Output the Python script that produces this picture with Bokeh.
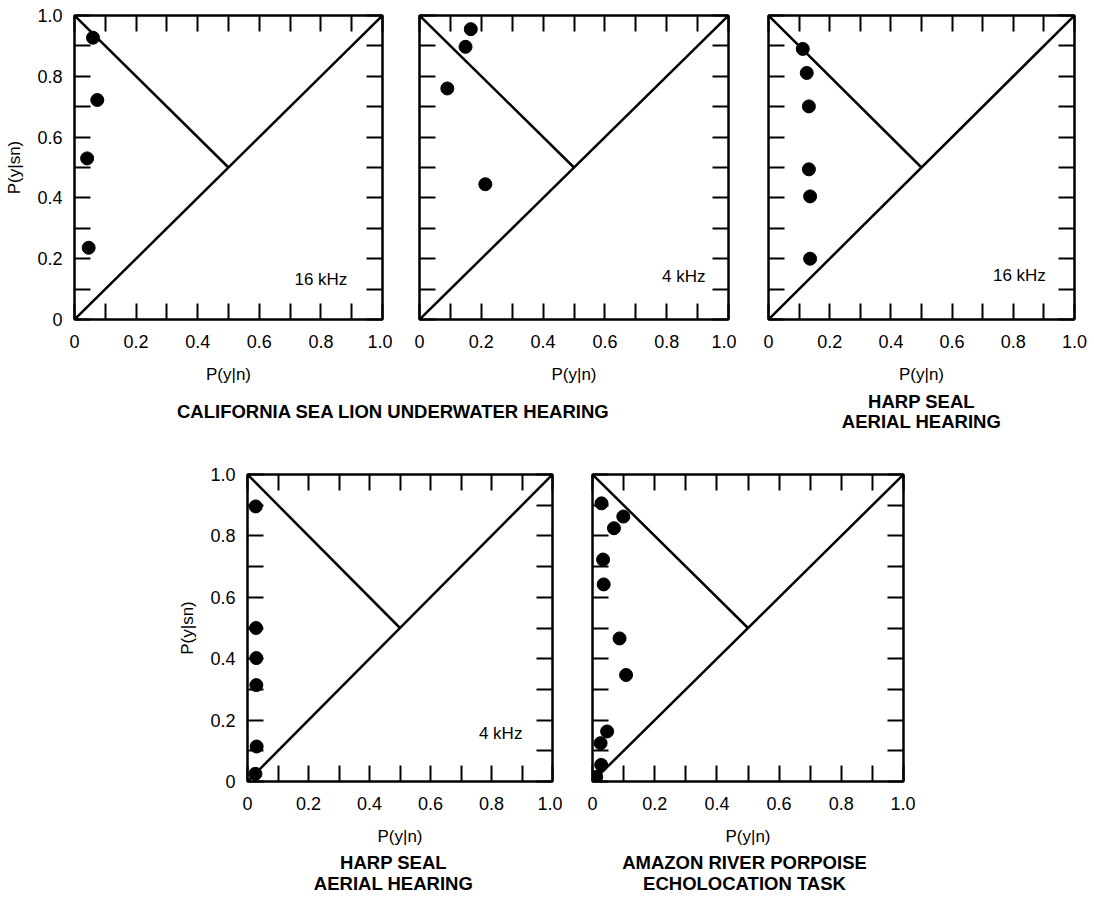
from bokeh.plotting import figure
from bokeh.layouts import column, row
from bokeh.models import Range1d, FixedTicker, LinearAxis, Spacer
from bokeh.core.properties import value
from bokeh.embed import file_html
from bokeh.resources import INLINE

# ---------------- data ----------------
# Panel A: California sea lion, underwater hearing, 16 kHz
sl16_fa = [0.060, 0.074, 0.041, 0.046]
sl16_hit = [0.927, 0.722, 0.530, 0.236]
# Panel B: California sea lion, underwater hearing, 4 kHz
sl4_fa = [0.166, 0.149, 0.090, 0.213]
sl4_hit = [0.955, 0.897, 0.760, 0.445]
# Panel C: harp seal, aerial hearing, 16 kHz
hs16_fa = [0.112, 0.125, 0.132, 0.132, 0.136, 0.136]
hs16_hit = [0.890, 0.811, 0.701, 0.494, 0.405, 0.200]
# Panel D: harp seal, aerial hearing, 4 kHz
hs4_fa = [0.027, 0.028, 0.029, 0.029, 0.030, 0.026]
hs4_hit = [0.896, 0.500, 0.402, 0.314, 0.114, 0.025]
# Panel E: Amazon river porpoise, echolocation task
ap_fa = [0.029, 0.099, 0.069, 0.034, 0.036, 0.087, 0.108, 0.047, 0.026, 0.028, 0.012]
ap_hit = [0.906, 0.863, 0.825, 0.723, 0.642, 0.466, 0.347, 0.163, 0.125, 0.054, 0.015]

# reference lines: chance diagonal and negative diagonal
diag_x = [0.0, 1.0]
diag_y = [0.0, 1.0]
neg_x = [0.0, 0.5]
neg_y = [1.0, 0.5]

major_ticks = [0.0, 0.2, 0.4, 0.6, 0.8, 1.0]
minor_ticks = [0.1, 0.3, 0.5, 0.7, 0.9]
tick_labels = {0.0: "0", 0.2: "0.2", 0.4: "0.4", 0.6: "0.6", 0.8: "0.8", 1.0: "1.0"}

FONT = "Liberation Sans"
TICK_LEN = 16


def style_axis(ax, show_labels, standoff=15):
    if show_labels:
        ax.ticker = FixedTicker(ticks=major_ticks, minor_ticks=minor_ticks)
        ax.major_label_overrides = tick_labels
        ax.major_label_text_font = FONT
        ax.major_label_text_font_size = "18px"
        ax.major_label_text_color = "black"
        ax.major_label_standoff = standoff
    else:
        # unlabelled frame side: every tenth drawn as a (label-free) minor tick
        ax.ticker = FixedTicker(ticks=[], minor_ticks=sorted(major_ticks + minor_ticks))
        ax.major_label_standoff = 0
    ax.major_tick_in = TICK_LEN
    ax.major_tick_out = 0
    ax.minor_tick_in = TICK_LEN
    ax.minor_tick_out = 0
    ax.major_tick_line_width = 2
    ax.minor_tick_line_width = 2
    ax.major_tick_line_color = "black"
    ax.minor_tick_line_color = "black"
    ax.axis_line_color = "black"
    ax.axis_line_width = 2


def panel(fa, hit, fw, fh, bl, br, bt, bb, ylab, note, note_xy):
    p = figure(width=bl + fw + br, height=bt + fh + bb,
               x_range=Range1d(0, 1), y_range=Range1d(0, 1),
               toolbar_location=None, output_backend="svg",
               x_axis_location=None, y_axis_location=None,
               min_border_left=bl, min_border_right=br,
               min_border_top=bt, min_border_bottom=bb)
    p.grid.visible = False
    p.outline_line_color = "black"
    p.outline_line_width = 2
    p.background_fill_color = "white"
    p.border_fill_color = "white"

    xb = LinearAxis(axis_label="P(y|n)")
    style_axis(xb, True, 15)
    xb.axis_label_text_font = FONT
    xb.axis_label_text_font_size = "17px"
    xb.axis_label_text_font_style = "normal"
    xb.axis_label_text_color = "black"
    xb.axis_label_standoff = 14
    p.add_layout(xb, "below")

    yl = LinearAxis(axis_label="P(y|sn)" if ylab else None)
    style_axis(yl, ylab, 12)
    if ylab:
        yl.axis_label_text_font = FONT
        yl.axis_label_text_font_size = "17px"
        yl.axis_label_text_font_style = "normal"
        yl.axis_label_text_color = "black"
        yl.axis_label_standoff = 10
    p.add_layout(yl, "left")

    xt = LinearAxis()
    style_axis(xt, False)
    p.add_layout(xt, "above")
    yr = LinearAxis()
    style_axis(yr, False)
    p.add_layout(yr, "right")

    p.line(diag_x, diag_y, line_color="black", line_width=2.5)
    p.line(neg_x, neg_y, line_color="black", line_width=2.5)
    p.scatter(fa, hit, size=13, fill_color="black", line_color="black")
    if note:
        p.text(x=[note_xy[0]], y=[note_xy[1]], text=[note],
               text_font=value(FONT), text_font_size="17px",
               text_align="center", text_baseline="middle", text_color="black")
    return p


def strip(w, h, items):
    s = figure(width=w, height=h, x_range=Range1d(0, w), y_range=Range1d(h, 0),
               toolbar_location=None, output_backend="svg",
               x_axis_location=None, y_axis_location=None, min_border=0)
    s.grid.visible = False
    s.outline_line_color = None
    s.border_fill_color = "white"
    for (tx, ty, t) in items:
        s.text(x=[tx], y=[ty], text=[t], text_font=value(FONT),
               text_font_size="18.5px", text_font_style="bold",
               text_align="center", text_baseline="middle", text_color="black")
    return s


# ---------------- top row ----------------
f1 = panel(sl16_fa, sl16_hit, 308, 311, 74, 10, 15, 60, True, "16 kHz", (0.80, 0.13))
f2 = panel(sl4_fa, sl4_hit, 309, 311, 27, 8, 15, 60, False, "4 kHz", (0.855, 0.14))
f3 = panel(hs16_fa, hs16_hit, 306, 311, 32, 16, 15, 60, False, "16 kHz", (0.82, 0.145))

s1 = strip(1090, 46, [(393, 25, "CALIFORNIA SEA LION UNDERWATER HEARING"),
                      (921, 15, "HARP SEAL"),
                      (921, 35, "AERIAL HEARING")])

# ---------------- bottom row ----------------
f4 = panel(hs4_fa, hs4_hit, 305, 312, 74, 10, 42, 62, True, "4 kHz", (0.83, 0.155))
f5 = panel(ap_fa, ap_hit, 311, 312, 30, 12, 42, 62, False, None, None)

s2 = strip(915, 47, [(393, 14, "HARP SEAL"),
                     (393, 35, "AERIAL HEARING"),
                     (744, 14, "AMAZON RIVER PORPOISE"),
                     (744, 35, "ECHOLOCATION TASK")])

layout = column(row(f1, f2, f3), s1, row(Spacer(width=173, height=10), f4, f5), s2)

open("out.html", "w").write(file_html(layout, INLINE))
